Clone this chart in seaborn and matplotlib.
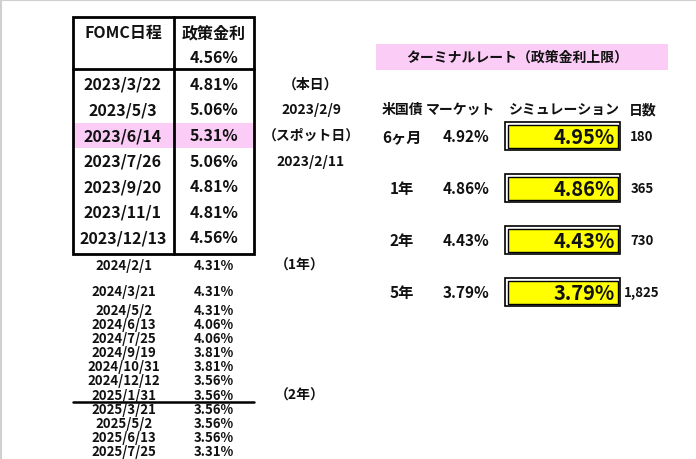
import matplotlib
matplotlib.use("Agg")
import matplotlib.pyplot as plt
from matplotlib.patches import Rectangle
import seaborn as sns

# upper (boxed) part of the FOMC table
fomc_dates = ["2023/3/22", "2023/5/3", "2023/6/14", "2023/7/26",
              "2023/9/20", "2023/11/1", "2023/12/13"]
fomc_rates = ["4.81%", "5.06%", "5.31%", "5.06%", "4.81%", "4.81%", "4.56%"]
current_rate = "4.56%"
highlight_date = "2023/6/14"

# lower (unboxed) part
later_dates = ["2024/2/1", "2024/3/21", "2024/5/2", "2024/6/13", "2024/7/25",
               "2024/9/19", "2024/10/31", "2024/12/12", "2025/1/31",
               "2025/3/21", "2025/5/2", "2025/6/13", "2025/7/25"]
later_rates = ["4.31%", "4.31%", "4.31%", "4.06%", "4.06%", "3.81%", "3.81%",
               "3.56%", "3.56%", "3.56%", "3.56%", "3.56%", "3.31%"]

side_notes = ["（本日）", "2023/2/9", "（スポット日）", "2023/2/11"]
year_marks = {"2024/2/1": "（1年）", "2025/1/31": "（2年）"}

# terminal rate panel
tenors = ["6ヶ月", "1年", "2年", "5年"]
market = ["4.92%", "4.86%", "4.43%", "3.79%"]
simulation = ["4.95%", "4.86%", "4.43%", "3.79%"]
days = ["180", "365", "730", "1,825"]

sns.set_style("white")
plt.rcParams["font.family"] = ["Noto Sans CJK JP", "DejaVu Sans"]

fig = plt.figure(figsize=(6.96, 4.6), dpi=100)
ax = fig.add_axes([0, 0, 1, 1])
ax.set_xlim(0, 696)
ax.set_ylim(460, 0)
ax.axis("off")

# faint frame at the top / left like the screenshot
ax.plot([0, 696], [0.5, 0.5], color="#d0d0d0", lw=1.5)
ax.plot([0.5, 0.5], [0, 460], color="#d0d0d0", lw=1.5)

black = "#111111"
big = dict(fontsize=11.5, fontweight="bold", color=black, ha="center", va="center")
small = dict(fontsize=9.5, fontweight="bold", color=black, ha="center", va="center")

x_date, x_rate, x_note = 123, 214, 311

# box of the table
y_top, y_head, y_bot = 18, 70, 255
row_h = 25.6
y_rows = [y_head + row_h * (i + 0.58) for i in range(len(fomc_dates))]

hi = fomc_dates.index(highlight_date)
ax.add_patch(Rectangle((74, y_rows[hi] - 12.5), 179, 25, color="#fbcdf6", lw=0, zorder=0))

ax.add_patch(Rectangle((73, y_top), 181, y_bot - y_top, fill=False, ec="black", lw=2))
ax.plot([174, 174], [y_top, y_bot], color="black", lw=2)
ax.plot([73, 254], [y_head, y_head], color="black", lw=2)

ax.text(x_date, 33, "FOMC日程", **big)
ax.text(x_rate, 33, "政策金利", **big)
ax.text(x_rate, 58, current_rate, **big)
for y, d, r in zip(y_rows, fomc_dates, fomc_rates):
    ax.text(x_date, y, d, **big)
    ax.text(x_rate, y, r, **big)
for y, s in zip(y_rows, side_notes):
    ax.text(x_note, y, s, fontsize=10, fontweight="bold", color=black, ha="center", va="center")

# unboxed rows: first two loosely spaced, then squeezed
y_later = [266, 292] + [311 + 14.1 * i for i in range(len(later_dates) - 2)]
for y, d, r in zip(y_later, later_dates, later_rates):
    ax.text(x_date + 1, y, d, **small)
    ax.text(x_rate, y, r, **small)
    if d in year_marks:
        ax.text(300, y, year_marks[d], fontsize=10, fontweight="bold", color=black,
                ha="center", va="center")
ax.plot([73, 254], [403, 403], color="black", lw=1.8)

# terminal rate title
ax.add_patch(Rectangle((376, 45), 292, 26, color="#fbcdf6", lw=0, zorder=0))
ax.text(517, 58, "ターミナルレート（政策金利上限）", fontsize=10, fontweight="bold",
        style="italic", color=black, ha="center", va="center")

ax.text(402, 110, "米国債", fontsize=10, fontweight="bold", color=black, ha="center", va="center")
ax.text(460, 110, "マーケット", fontsize=10, fontweight="bold", color=black, ha="center", va="center")
ax.text(564, 110, "シミュレーション", fontsize=10, fontweight="bold", style="italic",
        color=black, ha="center", va="center")
ax.text(643, 110, "日数", fontsize=10, fontweight="bold", color=black, ha="center", va="center")

y_sim = [137, 189, 241, 293]
for y, t, m, s, n in zip(y_sim, tenors, market, simulation, days):
    ax.text(402, y, t, fontsize=11, fontweight="bold", color=black, ha="center", va="center")
    ax.text(466, y, m, fontsize=11, fontweight="bold", color=black, ha="center", va="center")
    ax.add_patch(Rectangle((505, y - 14), 115, 28, fc="white", ec="black", lw=1.2))
    ax.add_patch(Rectangle((507.5, y - 11.5), 110, 23, fc="#ffff00", ec="black", lw=1.0))
    ax.text(615, y + 0.5, s, fontsize=14.5, fontweight="bold", color=black, ha="right", va="center")
    ax.text(642, y, n, fontsize=9.5, fontweight="bold", color=black, ha="center", va="center")

fig.savefig("out.png", dpi=100)
